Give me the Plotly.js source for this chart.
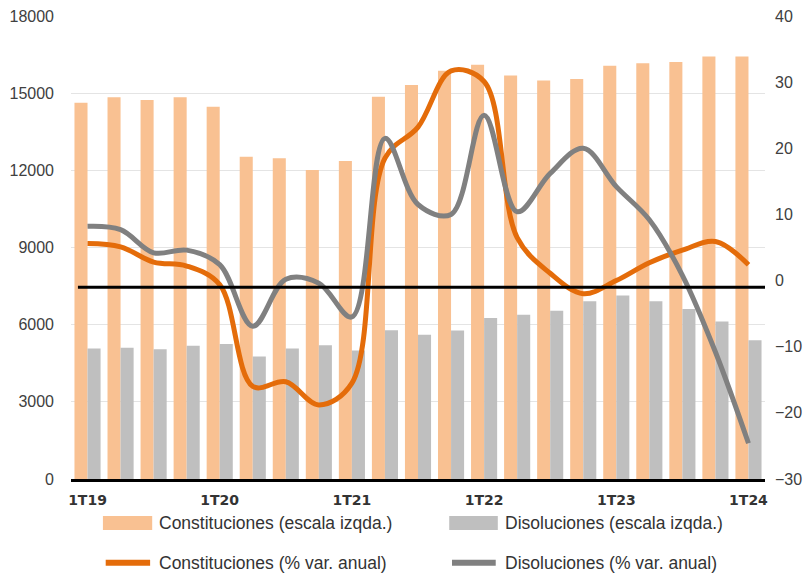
<!DOCTYPE html>
<html>
<head>
<meta charset="utf-8">
<script src="https://cdn.plot.ly/plotly-3.0.1.min.js"></script>
<style>html,body{margin:0;padding:0;background:#fff;}#chart{width:804px;height:575px;}</style>
</head>
<body>
<div id="chart"></div>
<script>
// ---- data ----
const quarters = ['1T19','2T19','3T19','4T19','1T20','2T20','3T20','4T20','1T21','2T21','3T21','4T21','1T22','2T22','3T22','4T22','1T23','2T23','3T23','4T23','1T24'];
const tickLabels = ['1T19','1T20','1T21','1T22','1T23','1T24'];
const leftTicks = [0,3000,6000,9000,12000,15000,18000];
const constituciones = [14630,14840,14730,14840,14470,12530,12470,12010,12360,14860,15320,15870,16100,15690,15490,15550,16070,16160,16210,16430,16430];
const disoluciones = [5070,5100,5040,5180,5250,4760,5070,5200,5000,5780,5610,5770,6260,6390,6540,6910,7130,6910,6610,6120,5390];
const constitucionesVar = [5.6,5.1,2.8,2.2,-0.6,-16.0,-15.3,-18.8,-15.5,18.5,23.2,31.7,30.1,6.5,1.1,-2.0,0.0,2.7,4.6,5.9,2.4];
const disolucionesVar = [8.2,7.7,4.2,4.6,2.4,-6.9,0.2,-0.4,-5.5,21.5,11.5,10.0,25.0,10.4,16.2,20.0,14.2,9.2,0.8,-10.8,-24.6];
const seriesNames = ['Constituciones (escala izqda.)','Disoluciones (escala izqda.)','Constituciones (% var. anual)','Disoluciones (% var. anual)'];
const refLineValue = -1;

// ---- styles ----
const cOrangeBar = '#F9C192', cGrayBar = '#BFBFBF', cOrange = '#E46C0A', cGray = '#808080';
const tickFont = {family: 'Liberation Sans, Arial, sans-serif', size: 16, color: '#404040'};

const traces = [
  {type:'bar', x: quarters, y: constituciones, name: seriesNames[0], marker:{color:cOrangeBar}, showlegend:false, hoverinfo:'skip'},
  {type:'bar', x: quarters, y: disoluciones, name: seriesNames[1], marker:{color:cGrayBar}, showlegend:false, hoverinfo:'skip'},
  {type:'scatter', mode:'lines', x: quarters, y: constitucionesVar, yaxis:'y2', name: seriesNames[2], line:{color:cOrange, width:5, shape:'spline', smoothing:1}, showlegend:false},
  {type:'scatter', mode:'lines', x: quarters, y: disolucionesVar, yaxis:'y2', name: seriesNames[3], line:{color:cGray, width:5, shape:'spline', smoothing:1}, showlegend:false}
];

// custom legend (swatches + texts)
const lgX = [0.046, 0.545];
const lgTextX = [0.124, 0.622];
const lgY = [-0.095, -0.181];
const shapes = [
  {type:'line', xref:'paper', yref:'y2', x0:0.01, x1:1, y0:refLineValue, y1:refLineValue, line:{color:'#000', width:3}},
  {type:'rect', xref:'paper', yref:'paper', x0:lgX[0], x1:lgX[0]+0.071, y0:lgY[0]-0.015, y1:lgY[0]+0.015, fillcolor:cOrangeBar, line:{width:0}},
  {type:'rect', xref:'paper', yref:'paper', x0:lgX[1], x1:lgX[1]+0.070, y0:lgY[0]-0.015, y1:lgY[0]+0.015, fillcolor:cGrayBar, line:{width:0}},
  {type:'line', xref:'paper', yref:'paper', x0:lgX[0]+0.004, x1:lgX[0]+0.068, y0:lgY[1], y1:lgY[1], line:{color:cOrange, width:6}},
  {type:'line', xref:'paper', yref:'paper', x0:lgX[1]+0.004, x1:lgX[1]+0.067, y0:lgY[1], y1:lgY[1], line:{color:cGray, width:6}}
];
const legendFont = {family:'Liberation Sans, Arial, sans-serif', size:17.5, color:'#333'};
const annotations = [
  {text: seriesNames[0], x: lgTextX[0], y: lgY[0]},
  {text: seriesNames[1], x: lgTextX[1], y: lgY[0]},
  {text: seriesNames[2], x: lgTextX[0], y: lgY[1]},
  {text: seriesNames[3], x: lgTextX[1], y: lgY[1]}
].map(a => Object.assign(a, {xref:'paper', yref:'paper', xanchor:'left', yanchor:'middle', showarrow:false, font:legendFont}));

const layout = {
  width: 804, height: 575,
  margin: {l:71, r:39, t:16, b:96},
  paper_bgcolor:'#fff', plot_bgcolor:'#fff',
  barmode:'group', bargap:0.21, bargroupgap:0,
  showlegend:false,
  xaxis: {type:'category', tickmode:'array', tickvals: tickLabels, ticktext: tickLabels,
          tickfont:{family:'DejaVu Sans, sans-serif', size:14, color:'#333', weight:'bold'},
          showline:true, linecolor:'#000', linewidth:3, showgrid:false, ticks:'', ticklabelstandoff:6,
          range:[-0.5, 20.5]},
  yaxis: {range:[0,18000], tickmode:'array', tickvals:leftTicks, ticktext:leftTicks.map(String), showgrid:true, gridcolor:'#E4E4E4', gridwidth:1,
          zeroline:false, tickfont:tickFont, ticks:'', ticklabelstandoff:16, showline:false},
  yaxis2: {range:[-30,40], dtick:10, overlaying:'y', side:'right', showgrid:false, zeroline:false,
           tickfont:tickFont, ticks:'', ticklabelstandoff:9, showline:false},
  shapes: shapes,
  annotations: annotations
};

Plotly.newPlot('chart', traces, layout, {staticPlot:true, displayModeBar:false});
</script>
</body>
</html>
